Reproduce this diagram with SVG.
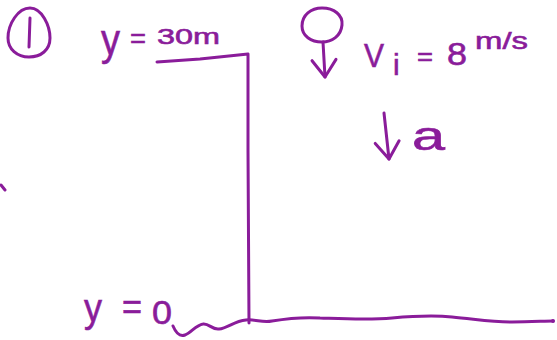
<svg xmlns="http://www.w3.org/2000/svg" width="557" height="340" viewBox="0 0 557 340">
  <defs>
    <style>
      .ink { fill: none; stroke: #8a1c9a; stroke-width: 3; stroke-linecap: round; stroke-linejoin: round; }
      .hand { fill: #8a1c9a; stroke: #8a1c9a; stroke-width: 0.6; font-family: "Liberation Sans", Arial, sans-serif; }
    </style>
    <marker id="head" viewBox="-20 -15 24 30" refX="0" refY="0" markerWidth="24" markerHeight="30" markerUnits="userSpaceOnUse" orient="auto" overflow="visible">
      <path d="M-17,-12 L0,0 L-17,12" fill="none" stroke="#8a1c9a" stroke-width="3" stroke-linecap="round" stroke-linejoin="round"/>
    </marker>
  </defs>
  <rect width="557" height="340" fill="#ffffff"/>

  <g id="problem-number">
    <path class="ink" d="M30,8 C42,8 50,26 50,38 C50,50 41,57 29,57 C17,57 8,49 8,38 C8,24 18,8 30,8 Z"/>
    <path class="ink" d="M30,18 L29,47"/>
  </g>

  <g id="top-label">
    <text class="hand"><tspan x="101" y="55" font-size="44" textLength="19" lengthAdjust="spacingAndGlyphs">y</tspan><tspan x="130" y="48" font-size="28" textLength="16" lengthAdjust="spacingAndGlyphs">=</tspan><tspan x="157" y="44" font-size="22" textLength="63" lengthAdjust="spacingAndGlyphs">30m</tspan></text>
  </g>

  <g id="bottom-label">
    <text class="hand"><tspan x="84" y="322" font-size="40" textLength="18" lengthAdjust="spacingAndGlyphs">y</tspan><tspan x="122" y="319" font-size="36" textLength="20" lengthAdjust="spacingAndGlyphs">=</tspan><tspan x="152" y="324" font-size="34" textLength="20" lengthAdjust="spacingAndGlyphs">0</tspan></text>
  </g>

  <g id="cliff">
    <path class="ink" d="M157,62 L200,59 L248,54 L248,150 L249,323"/>
  </g>

  <g id="ground">
    <path class="ink" d="M173,326 C176,333 180,337 185,335 C191,333 196,325 203,324 C209,323 212,330 219,329 C228,328 234,321 246,320 C256,319 262,323 272,321 C290,318 305,317 320,318 C350,319 370,320 392,318 C415,316 432,315 452,317 C475,319 492,322 512,322 C530,322 545,321 553,321"/>
    <circle cx="553" cy="321" r="2" fill="#8a1c9a"/>
  </g>

  <g id="edge-mark">
    <path class="ink" d="M1,185 L5,190" stroke-width="2.5"/>
  </g>

  <g id="ball">
    <path class="ink" d="M322,8 C334,8 343,15 342,25 C341,36 332,42 322,42 C311,42 302,36 302,26 C302,15 311,8 322,8 Z"/>
  </g>

  <g id="velocity-label">
    <text class="hand"><tspan x="364" y="67" font-size="34" textLength="20" lengthAdjust="spacingAndGlyphs">V</tspan><tspan x="393" y="75" font-size="30">i</tspan><tspan x="417" y="65" font-size="26" textLength="16" lengthAdjust="spacingAndGlyphs">=</tspan><tspan x="447" y="65" font-size="31" textLength="20" lengthAdjust="spacingAndGlyphs">8</tspan><tspan x="475" y="49" font-size="24" textLength="53" lengthAdjust="spacingAndGlyphs">m/s</tspan></text>
  </g>

  <g id="accel-label">
    <text class="hand" stroke-width="0"><tspan x="412" y="150" font-size="40" textLength="33" lengthAdjust="spacingAndGlyphs">a</tspan></text>
  </g>

  <g id="connectors">
    <path class="ink" d="M323,42 L325,77" marker-end="url(#head)"/>
    <path class="ink" d="M384,113 L389,159" marker-end="url(#head)"/>
  </g>
</svg>
